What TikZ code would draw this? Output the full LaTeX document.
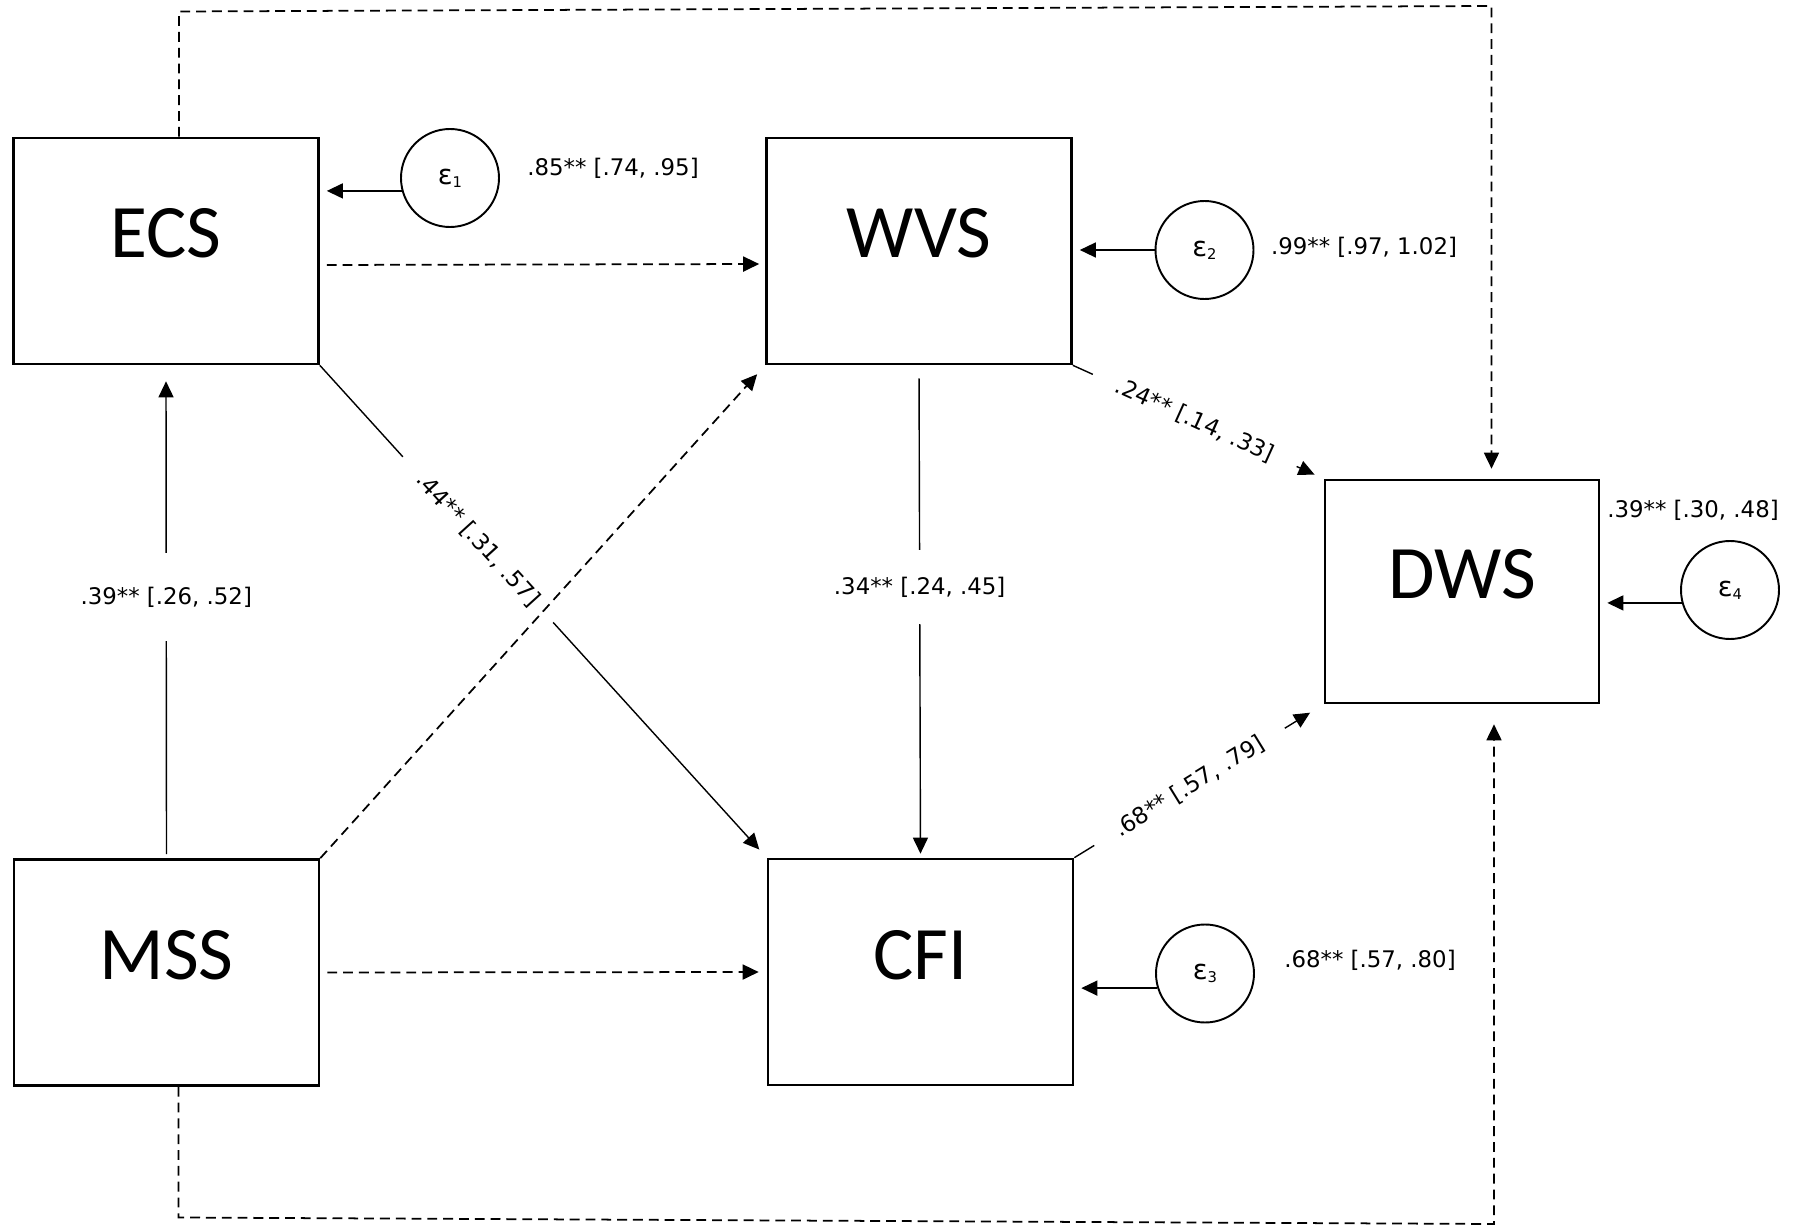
\documentclass[tikz,border=0pt]{standalone}
\usepackage{fontspec}
\setmainfont{DejaVu Sans}
\newfontfamily\boxfont{Carlito}
\usetikzlibrary{arrows.meta, positioning, calc}
\newcommand{\errlab}[1]{ε\raisebox{-0.8pt}{\fontsize{4.2}{5}\selectfont #1}}

\begin{document}
\begin{tikzpicture}[font=\fontsize{6.5}{8}\selectfont, >={Triangle[length=0.16cm, width=0.15cm]}]
    \tikzset{
        var/.style={draw, rectangle, line width=0.75pt, minimum width=3.05cm,
            minimum height=2.26cm, inner sep=0pt, text height=0.47cm, text depth=0.33cm,
            font=\boxfont\fontsize{21.5}{24}\selectfont},
        err/.style={draw, circle, line width=0.55pt, minimum size=0.98cm,
            inner sep=0pt, font=\fontsize{7.8}{9}\selectfont},
        eff/.style={draw, ->, line width=0.4pt},
        indir/.style={draw, ->, dashed, dash pattern=on 2.8pt off 1.7pt, line width=0.5pt},
        coef/.style={fill=white, inner xsep=0.26cm, inner ysep=0.05cm},
    }
    \useasboundingbox (0,0) rectangle (18.06,-12.27);

    \node[var] (ECS) at (1.66,-2.51) {ECS};
    \node[var] (WVS) at (9.19,-2.51) {WVS};
    \node[var, minimum width=2.74cm, minimum height=2.23cm] (DWS) at (14.62,-5.915) {DWS};
    \node[var] (MSS) at (1.665,-9.725) {MSS};
    \node[var] (CFI) at (9.205,-9.72) {CFI};

    \node[err] (e1) at (4.50,-1.78) {\errlab{1}};
    \node[err] (e2) at (12.045,-2.50) {\errlab{2}};
    \node[err] (e3) at (12.05,-9.735) {\errlab{3}};
    \node[err] (e4) at (17.30,-5.90) {\errlab{4}};

    \node (r1) at (6.13,-1.68) {.85** [.74, .95]};
    \node (r2) at (13.64,-2.47) {.99** [.97, 1.02]};
    \node (r3) at (13.70,-9.60) {.68** [.57, .80]};
    \node (r4) at (16.93,-5.105) {.39** [.30, .48]};

    \draw[eff, shorten >=0.07cm] (e1.195) -- (e1.195 -| ECS.east);
    \draw[eff, shorten >=0.07cm] (e2.west) -- (e2.west -| WVS.east);
    \draw[eff, shorten >=0.07cm] (e3.197) -- (e3.197 -| CFI.east);
    \draw[eff, shorten >=0.07cm] (e4.195) -- (e4.195 -| DWS.east);

    \draw[eff, shorten <=0.04cm, shorten >=0.16cm] (MSS.north) -- (ECS.south)
        node[coef, pos=0.53, inner ysep=0.34cm] {.39** [.26, .52]};
    \draw[eff, shorten <=0.13cm, shorten >=0.04cm] (WVS.south) -- (CFI.north)
        node[coef, pos=0.45, inner ysep=0.27cm] {.34** [.24, .45]};
    \draw[eff, shorten >=0.11cm] (ECS.south east) -- (CFI.north west)
        node[coef, sloped, pos=0.354] {.44** [.31, .57]};
    \draw[eff, shorten >=0.1cm] (WVS.south east) -- (DWS.north west)
        node[coef, sloped, pos=0.486] {.24** [.14, .33]};
    \draw[eff, shorten >=0.16cm] (CFI.north east) -- (DWS.south west)
        node[coef, sloped, pos=0.462] {.68** [.57, .79]};

    \draw[indir, shorten <=0.07cm, shorten >=0.06cm] ([yshift=-0.14cm]ECS.east) -- ([yshift=-0.13cm]WVS.west);
    \draw[indir, shorten <=0.07cm, shorten >=0.08cm] (MSS.east) -- (CFI.west);
    \draw[indir, shorten >=0.12cm] (MSS.north east) -- (WVS.south west);

    \coordinate (topL) at (1.79,-0.115);
    \coordinate (topR) at (14.915,-0.06);
    \draw[indir, shorten >=0.1cm] (ECS.north -| topL) -- (topL) -- (topR) -- (DWS.north -| topR);
    \coordinate (botL) at (1.785,-12.175);
    \coordinate (botR) at (14.94,-12.24);
    \draw[indir, shorten >=0.2cm] (MSS.south -| botL) -- (botL) -- (botR) -- (DWS.south -| botR);
\end{tikzpicture}
\end{document}
